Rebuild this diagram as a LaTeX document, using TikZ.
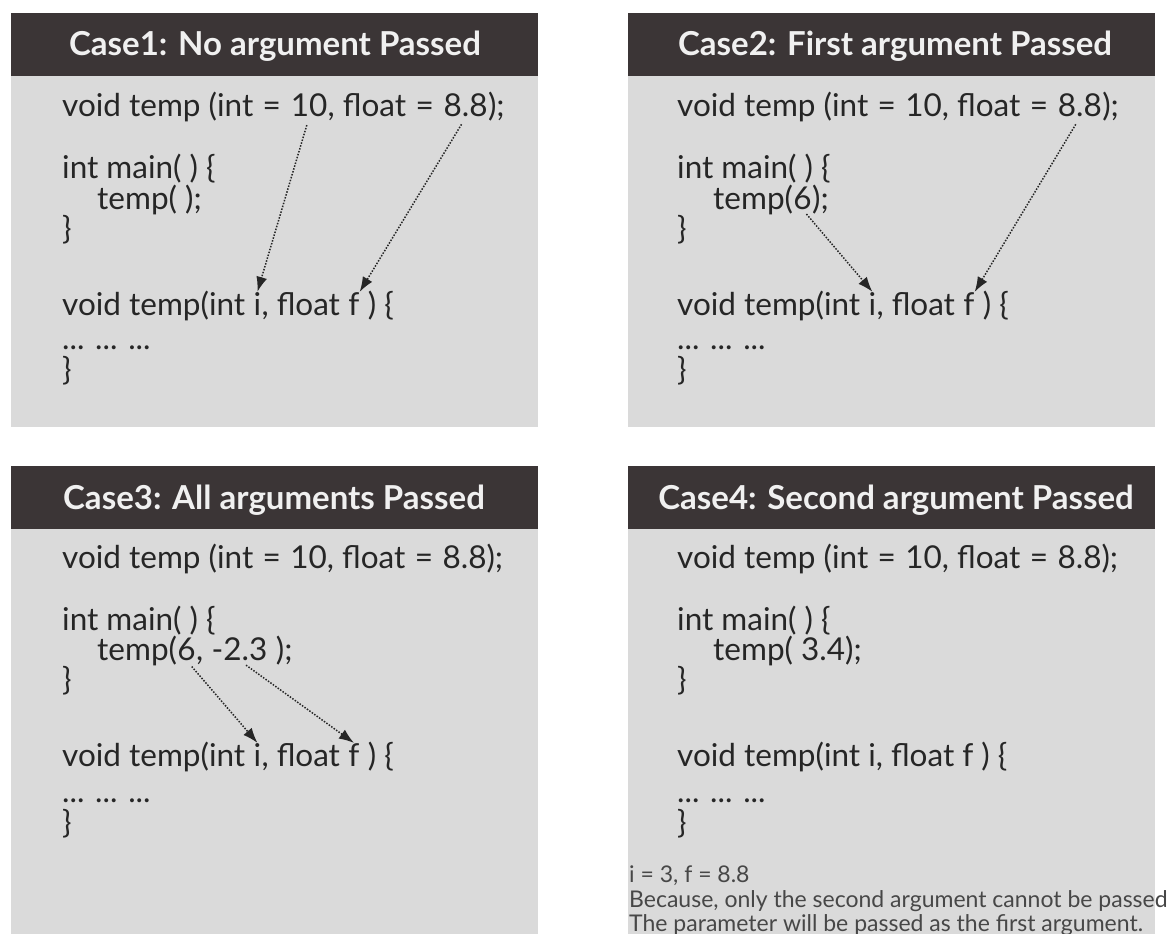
\documentclass[tikz,border=0pt]{standalone}
\usepackage{fontspec}
\setmainfont{Lato}
\usetikzlibrary{arrows.meta,positioning}
\definecolor{headgray}{RGB}{59,53,54}
\definecolor{bodygray}{RGB}{218,218,218}
\definecolor{codegray}{RGB}{38,38,38}
\newcommand{\codefont}{\fontsize{31.5}{36}\selectfont}
\newcommand{\headfont}{\bfseries\fontsize{33}{38}\selectfont}
\newcommand{\notefont}{\fontsize{23}{26}\selectfont}
% spaces that survive at the end of a node text
\newcommand{\codesp}{\ \null}
\newcommand{\eqsp}{\hspace{0.3em}=\hspace{0.3em}\null}

\begin{document}
\begin{tikzpicture}[x=1pt,y=-1pt,>={Latex[length=15pt,width=11pt]},
	code/.style={inner sep=0pt,anchor=base west,font=\codefont,text=codegray},
	note/.style={inner sep=0pt,anchor=base west,font=\notefont,text=codegray!85},
	headtext/.style={inner sep=0pt,anchor=base,font=\headfont,text=white!94!black},
	pass/.style={->,line width=1.5pt,dash pattern=on 1.5pt off 1.5pt,draw=codegray}]
\useasboundingbox (0,0) rectangle (1171,934);
% panels: body and dark title bar
\foreach \px/\py/\bot in {11/13/427, 628/13/427, 11/466/934, 628/466/934}{
	\fill[bodygray] (\px,\py) rectangle (\px+527,\bot);
	\fill[headgray] (\px,\py) rectangle (\px+527,\py+63);
}
\node[headtext] (t1) at (275,56) {Case1: No argument Passed};
\node[headtext] (t2) at (895,56) {Case2: First argument Passed};
\node[headtext] (t3) at (274,509) {Case3: All arguments Passed};
\node[headtext] (t4) at (896,509) {Case4: Second argument Passed};

% Case 1
\node[code] (a1) at (62,117) {void temp (int\eqsp};
\node[code,base right=0pt of a1] (a1ten) {10};
\node[code,base right=0pt of a1ten] (a1b) {, float\eqsp};
\node[code,base right=0pt of a1b] (a1eight) {8.8};
\node[code,base right=0pt of a1eight] (a1c) {);};
\node[code] (a2) at (62,178) {int main( ) \{};
\node[code] (a3) at (97,209) {temp( );};
\node[code] (a4) at (62,239) {\}};
\node[code] (a5) at (62,315) {void temp(int\codesp};
\node[code,base right=0pt of a5] (a5i) {i};
\node[code,base right=0pt of a5i] (a5b) {, float\codesp};
\node[code,base right=0pt of a5b] (a5f) {f};
\node[code,base right=0pt of a5f] (a5c) {\ ) \{};
\node[code] (a6) at (62,349) {... ... ...};
\node[code] (a7) at (62,380) {\}};
\draw[pass,shorten <=8pt] (a1ten.south) -- (a5i.north);
\draw[pass,shorten <=8pt] (a1eight.south) -- (a5f.north east);

% Case 2
\node[code] (b1) at (677,117) {void temp (int\eqsp 10, float\eqsp};
\node[code,base right=0pt of b1] (b1eight) {8.8};
\node[code,base right=0pt of b1eight] (b1c) {);};
\node[code] (b2) at (677,178) {int main( ) \{};
\node[code] (b3) at (713,209) {temp(};
\node[code,base right=0pt of b3] (b3six) {6};
\node[code,base right=0pt of b3six] (b3c) {);};
\node[code] (b4) at (677,239) {\}};
\node[code] (b5) at (677,315) {void temp(int\codesp};
\node[code,base right=0pt of b5] (b5i) {i};
\node[code,base right=0pt of b5i] (b5b) {, float\codesp};
\node[code,base right=0pt of b5b] (b5f) {f};
\node[code,base right=0pt of b5f] (b5c) {\ ) \{};
\node[code] (b6) at (677,349) {... ... ...};
\node[code] (b7) at (677,380) {\}};
\draw[pass,shorten <=6pt] (b3six.south) -- (b5i.north);
\draw[pass,shorten <=8pt] (b1eight.south) -- (b5f.north east);

% Case 3
\node[code] (c1) at (62,568) {void temp (int\eqsp 10, float\eqsp 8.8);};
\node[code] (c2) at (62,630) {int main( ) \{};
\node[code] (c3) at (97,660) {temp(};
\node[code,base right=0pt of c3] (c3six) {6};
\node[code,base right=0pt of c3six] (c3b) {,\codesp};
\node[code,base right=0pt of c3b] (c3two) {-2.3};
\node[code,base right=0pt of c3two] (c3c) {\ );};
\node[code] (c4) at (62,690) {\}};
\node[code] (c5) at (62,766) {void temp(int\codesp};
\node[code,base right=0pt of c5] (c5i) {i};
\node[code,base right=0pt of c5i] (c5b) {, float\codesp};
\node[code,base right=0pt of c5b] (c5f) {f};
\node[code,base right=0pt of c5f] (c5c) {\ ) \{};
\node[code] (c6) at (62,802) {... ... ...};
\node[code] (c7) at (62,833) {\}};
\draw[pass,shorten <=8pt] (c3six.south) -- (c5i.north);
\draw[pass,shorten <=8pt] (c3two.south) -- (c5f.north);

% Case 4
\node[code] (d1) at (677,568) {void temp (int\eqsp 10, float\eqsp 8.8);};
\node[code] (d2) at (677,630) {int main( ) \{};
\node[code] (d3) at (713,660) {temp( 3.4);};
\node[code] (d4) at (677,690) {\}};
\node[code] (d5) at (677,766) {void temp(int i, float f ) \{};
\node[code] (d6) at (677,802) {... ... ...};
\node[code] (d7) at (677,833) {\}};
\node[note] (n1) at (629,882) {i = 3, f = 8.8};
\node[note] (n2) at (629,907) {Because, only the second argument cannot be passed};
\node[note] (n3) at (629,931) {The parameter will be passed as the first argument.};
\end{tikzpicture}
\end{document}
